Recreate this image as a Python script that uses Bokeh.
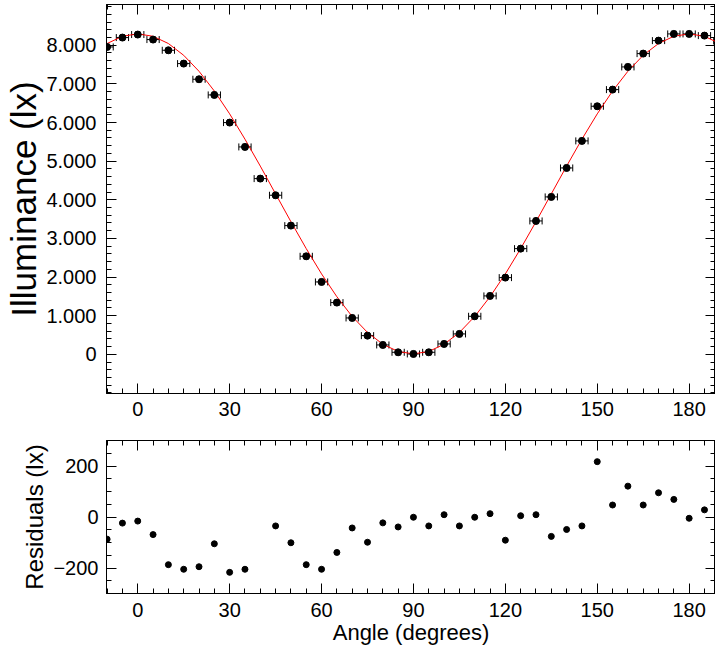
from bokeh.plotting import figure
from bokeh.models import (ColumnDataSource, Range1d, FixedTicker, LinearAxis,
                          Whisker, TeeHead)
from bokeh.layouts import column
from bokeh.embed import file_html
from bokeh.resources import INLINE

# ---- data ----
angles = [-10, -5, 0, 5, 10, 15, 20, 25, 30, 35, 40, 45, 50, 55, 60, 65, 70,
          75, 80, 85, 90, 95, 100, 105, 110, 115, 120, 125, 130, 135, 140,
          145, 150, 155, 160, 165, 170, 175, 180, 185, 190]
illuminance = [7956, 8199, 8277, 8147, 7870, 7525, 7120, 6714, 5998, 5368,
               4548, 4117, 3331, 2537, 1873, 1338, 941, 483, 242, 52, 9, 52,
               268, 527, 984, 1511, 1985, 2735, 3452, 4074, 4824, 5524, 6421,
               6852, 7439, 7784, 8120, 8293, 8293, 8250, 8110]
fit_values = [8045, 8232, 8295, 8232, 8045, 7740, 7326, 6815, 6224, 5569,
              4872, 4152, 3433, 2736, 2081, 1490, 979, 565, 260, 73, 10, 73,
              260, 565, 979, 1490, 2081, 2736, 3433, 4152, 4872, 5569, 6224,
              6815, 7326, 7740, 8045, 8232, 8295, 8232, 8045]
residuals = [-87, -24, -16, -69, -187, -205, -195, -105, -217, -205, -324,
             -35, -101, -187, -205, -139, -43, -99, -23, -39, -1, -35, 9, -35,
             -1, 13, -91, 5, 9, -76, -49, -35, 217, 47, 121, 47, 95, 69, -5,
             28, 65]
angle_err = 2
illum_err = 70

x_major = [0, 30, 60, 90, 120, 150, 180]
y_major = [0, 1000, 2000, 3000, 4000, 5000, 6000, 7000, 8000]
y_labels = ["0", "1.000", "2.000", "3.000", "4.000", "5.000", "6.000",
            "7.000", "8.000"]
r_major = [-200, 0, 200]

FONT = "Liberation Sans"

src = ColumnDataSource(dict(
    x=angles, y=illuminance,
    xl=[a - angle_err for a in angles], xu=[a + angle_err for a in angles],
    yl=[v - illum_err for v in illuminance], yu=[v + illum_err for v in illuminance],
))
fit_src = ColumnDataSource(dict(x=angles, y=fit_values))
res_src = ColumnDataSource(dict(x=angles, y=residuals))

x_range = Range1d(-10.2, 188.6)

x_ticker = FixedTicker(ticks=x_major, minor_ticks=list(range(-10, 195, 5)))
y_ticker = FixedTicker(ticks=y_major, minor_ticks=list(range(-1000, 9200, 200)))
r_ticker = FixedTicker(ticks=r_major, minor_ticks=list(range(-300, 301, 50)))


def style_axis(ax, labels=True, size="20px"):
    ax.axis_line_color = "black"
    ax.axis_line_width = 1
    ax.major_tick_in = 10
    ax.major_tick_out = 0
    ax.minor_tick_in = 5
    ax.minor_tick_out = 0
    ax.major_tick_line_color = "black"
    ax.minor_tick_line_color = "black"
    ax.major_label_text_font = FONT
    ax.axis_label_text_font = FONT
    ax.axis_label_text_font_style = "normal"
    ax.axis_label_text_color = "black"
    if labels:
        ax.major_label_text_color = "black"
        ax.major_label_text_font_size = size
        ax.major_label_standoff = 8
    else:
        # mirrored ticks only: labels are not drawn at all
        ax.major_label_text_color = None
        ax.major_label_text_font_size = "1px"
        ax.major_label_standoff = 0
        ax.axis_label = None


def mirror_axes(p, xt, yt):
    top = LinearAxis(ticker=xt)
    right = LinearAxis(ticker=yt)
    style_axis(top, labels=False)
    style_axis(right, labels=False)
    p.add_layout(top, "above")
    p.add_layout(right, "right")


# ---- top panel ----
p1 = figure(width=715, height=423, x_range=x_range,
            y_range=Range1d(-1015, 9055), output_backend="svg",
            toolbar_location=None, min_border_left=106, min_border_right=0,
            min_border_top=4, min_border_bottom=30)
p1.grid.visible = False
p1.outline_line_color = "black"
p1.xaxis.ticker = x_ticker
p1.yaxis.ticker = y_ticker
p1.yaxis.major_label_overrides = {v: s for v, s in zip(y_major, y_labels)}
style_axis(p1.xaxis[0])
style_axis(p1.yaxis[0])
p1.yaxis.axis_label = "Illuminance (lx)"
p1.yaxis.axis_label_text_font_size = "35px"
p1.yaxis.axis_label_standoff = 0
p1.yaxis.major_label_standoff = 10
mirror_axes(p1, x_ticker, y_ticker)

p1.line("x", "y", source=fit_src, line_color="#ff0000", line_width=1)
p1.add_layout(Whisker(base="y", lower="xl", upper="xu", dimension="width",
                      source=src, line_color="black", line_width=1,
                      lower_head=TeeHead(size=7, line_color="black", line_width=1),
                      upper_head=TeeHead(size=7, line_color="black", line_width=1)))
p1.add_layout(Whisker(base="x", lower="yl", upper="yu", dimension="height",
                      source=src, line_color="black", line_width=1,
                      lower_head=TeeHead(size=5, line_color="black", line_width=1),
                      upper_head=TeeHead(size=5, line_color="black", line_width=1)))
p1.scatter("x", "y", source=src, size=7, color="black")

# ---- bottom panel ----
p2 = figure(width=715, height=224, x_range=x_range,
            y_range=Range1d(-300, 300), output_backend="svg",
            toolbar_location=None, min_border_left=106, min_border_right=0,
            min_border_top=17, min_border_bottom=30)
p2.grid.visible = False
p2.outline_line_color = "black"
p2.xaxis.ticker = x_ticker
p2.yaxis.ticker = r_ticker
style_axis(p2.xaxis[0])
style_axis(p2.yaxis[0])
p2.xaxis.axis_label = "Angle (degrees)"
p2.xaxis.axis_label_text_font_size = "22px"
p2.xaxis.axis_label_standoff = 0
p2.xaxis.major_label_standoff = 9
p2.yaxis.axis_label = "Residuals (lx)"
p2.yaxis.axis_label_text_font_size = "24px"
p2.yaxis.axis_label_standoff = 2
mirror_axes(p2, x_ticker, r_ticker)

p2.scatter("x", "y", source=res_src, size=6, color="black")

layout = column(p1, p2, spacing=0)
open("out.html", "w").write(file_html(layout, INLINE))
